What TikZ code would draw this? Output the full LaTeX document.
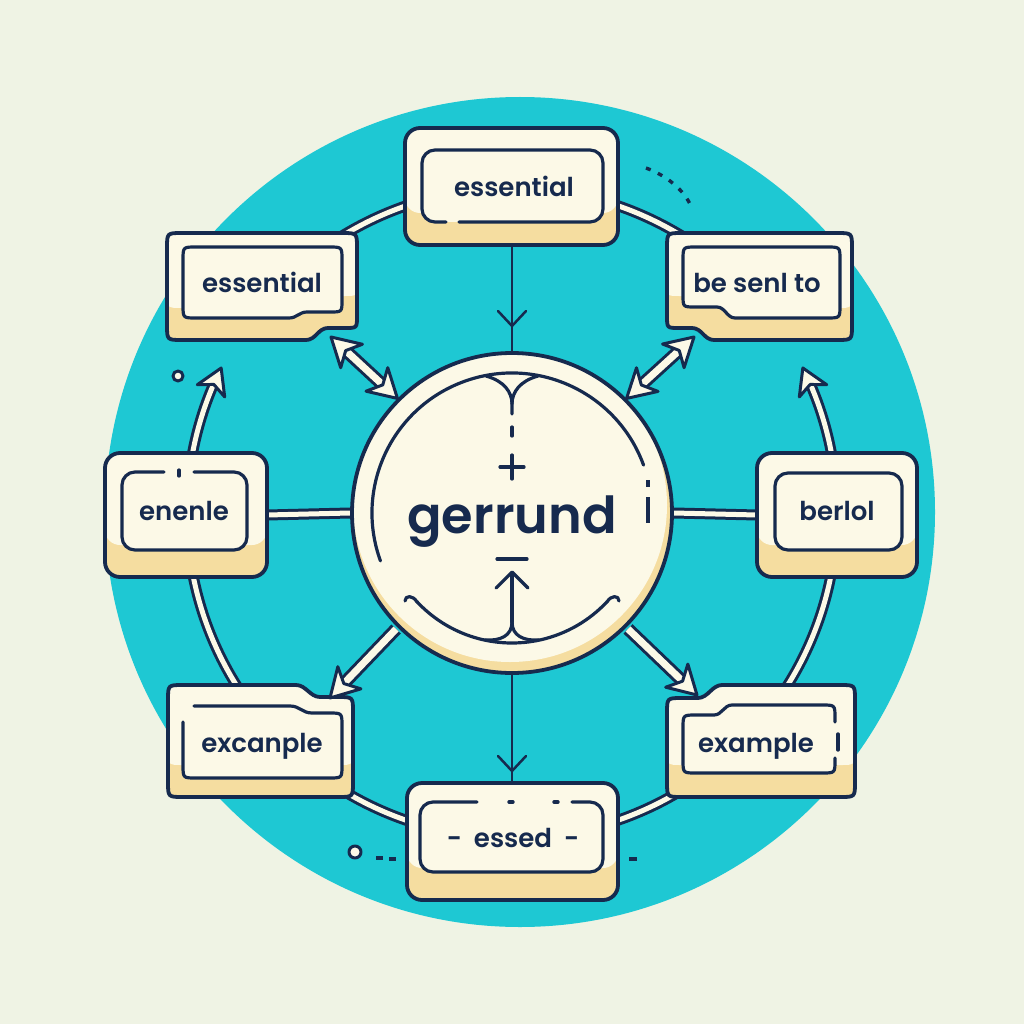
\documentclass[tikz,border=0pt]{standalone}
\usepackage{fontspec}
\setmainfont{Poppins}[UprightFont=* SemiBold]
\usetikzlibrary{calc}
\definecolor{bg}{RGB}{239,243,228}
\definecolor{cyanc}{RGB}{30,200,211}
\definecolor{navy}{RGB}{22,42,78}
\definecolor{cream}{RGB}{252,249,231}
\definecolor{beige}{RGB}{245,221,160}
\newcommand\cardshape[1]{%
  \begin{scope}
    \path[clip] #1;
    \fill[beige] (0,0) rectangle (1024,1024);
    \fill[cream, yshift=32pt] #1;
  \end{scope}
  \draw[navy, line width=3.8pt] #1;}
\newcommand\fathead[2]{%
  \filldraw[fill=cream, draw=navy, line width=3pt, line join=round]
    (#1) -- ($(#1)!28pt!(#2)!16pt!90:(#1)$) -- ($(#1)!20pt!(#2)$)
    -- ($(#1)!28pt!(#2)!16pt!-90:(#1)$) -- cycle;}
\newcommand\ringhead[2]{%
  \filldraw[fill=cream, draw=navy, line width=3pt, line join=round]
    (#1) -- ($(#1)!25pt!(#2)!15pt!90:(#1)$) -- ($(#1)!18pt!(#2)$)
    -- ($(#1)!25pt!(#2)!15pt!-90:(#1)$) -- cycle;}
\begin{document}
\begin{tikzpicture}[x=1pt,y=-1pt,line cap=round,line join=round]
\tikzset{
  ringo/.style={draw=navy, line width=11pt, line cap=butt},
  ringi/.style={draw=cream, line width=5pt, line cap=butt},
  fato/.style={draw=navy, line width=13pt, line cap=butt},
  fati/.style={draw=cream, line width=7pt, line cap=butt},
  spoke/.style={draw=navy, line width=2.5pt},
  deco/.style={draw=navy, line width=3.2pt},
  innerfill/.style={fill=cream, rounded corners=13pt},
  innerline/.style={draw=navy, line width=3.2pt, rounded corners=13pt},
  txt/.style={text=navy, font=\fontsize{26}{30}\selectfont, inner sep=0pt, anchor=base},
  anch/.style={inner sep=0pt, outer sep=0pt, draw=none},
}
\useasboundingbox (0,0) rectangle (1024,1024);
\fill[bg] (0,0) rectangle (1024,1024);
\fill[cyanc] (520,512) circle[radius=415];
\coordinate (c) at (512,513);

% small decorations
\draw[navy, line width=3.4pt, line cap=butt, dash pattern=on 5pt off 8pt]
  (646,168) .. controls (665,175) and (682,188) .. (690,204);
\draw[navy, line width=3pt, fill=cream] (178,376) circle[radius=5];
\draw[navy, line width=3pt, fill=cream] (355,852) circle[radius=6];
\draw[navy, line width=3.8pt, line cap=butt] (376,858)--(383,858) (389,859)--(396,859) (629,859)--(637,859);

% anchors for cards
\node[anch, minimum width=213pt, minimum height=117pt] (nT) at (512,186.5) {};
\node[anch, minimum width=190pt, minimum height=107pt] (nTL) at (262,286.5) {};
\node[anch, minimum width=185pt, minimum height=107pt] (nTR) at (759.5,286.5) {};
\node[anch, minimum width=162pt, minimum height=124pt] (nL) at (186,515) {};
\node[anch, minimum width=160pt, minimum height=124pt] (nR) at (837,515) {};
\node[anch, minimum width=185pt, minimum height=112pt] (nBL) at (260.5,741) {};
\node[anch, minimum width=188pt, minimum height=112pt] (nBR) at (761,741) {};
\node[anch, minimum width=211pt, minimum height=117pt] (nB) at (512,841.5) {};
\node[anch, circle, minimum size=324pt] (ctr) at (c) {};

% ring
\foreach \st in {ringo,ringi}{
  \draw[\st] ($(c)+(215:325)$) arc[start angle=215, end angle=270, radius=325];
  \draw[\st] ($(c)+(270:325)$) arc[start angle=270, end angle=325, radius=325];
  \draw[\st] ($(c)+(360:325)$) arc[start angle=360, end angle=337, radius=325];
  \draw[\st] ($(c)+(0:325)$) arc[start angle=0, end angle=45, radius=325];
  \draw[\st] ($(c)+(45:325)$) arc[start angle=45, end angle=90, radius=325];
  \draw[\st] ($(c)+(90:325)$) arc[start angle=90, end angle=135, radius=325];
  \draw[\st] ($(c)+(135:325)$) arc[start angle=135, end angle=180, radius=325];
  \draw[\st] ($(c)+(180:325)$) arc[start angle=180, end angle=203, radius=325];
  \draw[\st] (nL.east) -- (ctr.west);
  \draw[\st] (ctr.east) -- (nR.west);
}
\coordinate (lt) at ($(c)+(206.5:325)$);
\coordinate (lr) at ($(c)+(201.5:325)$);
\coordinate (rt) at ($(c)+(333.5:325)$);
\coordinate (rr) at ($(c)+(338.5:325)$);
\ringhead{lt}{lr}
\ringhead{rt}{rr}

% vertical spokes
\draw[spoke] (nT.south) -- (ctr.north);
\draw[spoke] (498,311) -- (512,326) -- (526,311);
\draw[spoke] (ctr.south) -- (nB.north);
\draw[spoke] (498,756) -- (512,771) -- (526,756);

% central circle
\begin{scope}
  \clip (c) circle[radius=160];
  \fill[beige] (c) circle[radius=160];
  \fill[cream] (510,505) circle[radius=157];
\end{scope}
\draw[navy, line width=3.8pt] (c) circle[radius=160];
\draw[deco] ($(c)+(160:140)$) arc[start angle=160, end angle=340, radius=140];
\draw[deco] (486,376) .. controls (504,381) and (512,392) .. (512,404) -- (512,414);
\draw[deco] (538,376) .. controls (520,381) and (512,392) .. (512,404);
\draw[deco] (512,427) -- (512,436);
\draw[deco] (500,467) -- (524,467) (512,455) -- (512,479);
\draw[deco] (497,559) -- (527,559);
\draw[deco] (496,588) -- (512,572) -- (528,588);
\draw[deco] (512,574) -- (512,622);
\draw[deco] ($(c)+(137:130)$) arc[start angle=137, end angle=43, radius=130];
\draw[deco] (417,602) .. controls (413,595) and (405,595) .. (405,601);
\draw[deco] (607,602) .. controls (611,595) and (619,595) .. (619,601);
\draw[deco] (512,622) .. controls (512,636) and (500,641) .. (485,640);
\draw[deco] (512,622) .. controls (512,636) and (524,641) .. (539,640);
\draw[navy, line width=4.2pt, line cap=butt] (648,480) -- (648,487) (648,497) -- (648,523);
\node[text=navy, font=\fontsize{51}{60}\selectfont, anchor=base, inner sep=0pt] (tC) at (512,533) {gerrund};

% top card
\cardshape{[rounded corners=15pt] (405,128) rectangle (618,245)}
\fill[innerfill] (422,150) rectangle (603,222);
\draw[innerline] (459,222) -- (603,222) -- (603,150) -- (422,150) -- (422,222) -- (446,222);
\node[txt] (tT) at (514,197) {essential};

% top-left card
\cardshape{(182,233) -- (342,233) .. controls (357,233) .. (357,248) -- (357,316) .. controls (357,328) .. (345,328) -- (328,328) .. controls (318,328) and (316,340) .. (306,340) -- (182,340) .. controls (167,340) .. (167,325) -- (167,248) .. controls (167,233) .. (182,233) -- cycle}
\filldraw[fill=cream, draw=navy, line width=3.2pt] (196,247) -- (329,247) .. controls (342,247) .. (342,260) -- (342,300) .. controls (342,312) .. (330,312) -- (307,312) .. controls (299,312) and (297,318) .. (289,318) -- (196,318) .. controls (183,318) .. (183,305) -- (183,260) .. controls (183,247) .. (196,247) -- cycle;
\node[txt] (tTL) at (262,292) {essential};

% top-right card
\cardshape{(682,233) -- (837,233) .. controls (852,233) .. (852,248) -- (852,325) .. controls (852,340) .. (837,340) -- (714,340) .. controls (704,340) and (702,328) .. (692,328) -- (679,328) .. controls (667,328) .. (667,316) -- (667,248) .. controls (667,233) .. (682,233) -- cycle}
\filldraw[fill=cream, draw=navy, line width=3.2pt] (696,247) -- (827,247) .. controls (840,247) .. (840,260) -- (840,305) .. controls (840,318) .. (827,318) -- (735,318) .. controls (727,318) and (725,307) .. (717,307) -- (695,307) .. controls (683,307) .. (683,295) -- (683,260) .. controls (683,247) .. (696,247) -- cycle;
\node[txt] (tTR) at (757,292) {be senl to};

% left card
\cardshape{[rounded corners=15pt] (105,453) rectangle (267,577)}
\fill[innerfill] (122,472) rectangle (247,550);
\draw[innerline] (194,472) -- (247,472) -- (247,550) -- (122,550) -- (122,472) -- (164,472);
\draw[deco] (179,470) -- (179,476);
\node[txt] (tL) at (184,520) {enenle};

% right card
\cardshape{[rounded corners=15pt] (757,453) rectangle (917,577)}
\filldraw[fill=cream, draw=navy, line width=3.2pt, rounded corners=13pt] (775,473) rectangle (902,550);
\node[txt] (tR) at (837,520) {berlol};

% bottom-left card
\cardshape{(183,685) -- (296,685) .. controls (306,685) and (310,697) .. (320,697) -- (338,697) .. controls (353,697) .. (353,712) -- (353,782) .. controls (353,797) .. (338,797) -- (183,797) .. controls (168,797) .. (168,782) -- (168,700) .. controls (168,685) .. (183,685) -- cycle}
\fill[cream] (196,706) -- (290,706) .. controls (300,706) and (302,713) .. (312,713) -- (329,713) .. controls (342,713) .. (342,726) -- (342,765) .. controls (342,778) .. (329,778) -- (196,778) .. controls (183,778) .. (183,765) -- (183,719) .. controls (183,706) .. (196,706) -- cycle;
\draw[deco] (183,722) -- (183,765) .. controls (183,778) .. (196,778) -- (329,778) .. controls (342,778) .. (342,765) -- (342,726) .. controls (342,713) .. (329,713) -- (312,713) .. controls (302,713) and (300,706) .. (290,706) -- (194,706);
\node[txt] (tBL) at (262,752) {excanple};

% bottom-right card
\cardshape{(682,698) -- (698,698) .. controls (708,698) and (712,685) .. (722,685) -- (840,685) .. controls (855,685) .. (855,700) -- (855,782) .. controls (855,797) .. (840,797) -- (682,797) .. controls (667,797) .. (667,782) -- (667,713) .. controls (667,698) .. (682,698) -- cycle}
\fill[cream] (696,715) -- (714,715) .. controls (722,715) and (724,705) .. (732,705) -- (822,705) .. controls (835,705) .. (835,718) -- (835,760) .. controls (835,773) .. (822,773) -- (696,773) .. controls (683,773) .. (683,760) -- (683,728) .. controls (683,715) .. (696,715) -- cycle;
\draw[deco] (835,758) -- (835,760) .. controls (835,773) .. (822,773) -- (696,773) .. controls (683,773) .. (683,760) -- (683,728) .. controls (683,715) .. (696,715) -- (714,715) .. controls (722,715) and (724,705) .. (732,705) -- (822,705) .. controls (835,705) .. (835,718) -- (835,722);
\draw[navy, line width=3.4pt] (838,734) -- (838,750);
\node[txt] (tBR) at (756,752) {example};

% bottom card
\cardshape{[rounded corners=15pt] (407,783) rectangle (618,900)}
\fill[innerfill] (420,802) rectangle (603,872);
\draw[innerline] (572,802) -- (603,802) -- (603,872) -- (420,872) -- (420,802) -- (477,802);
\draw[navy, line width=3.4pt] (509,802) -- (513,802) (554,802) -- (558,802);
\node[txt] (tB) at (513,847) {-\hspace{12pt}essed\hspace{12pt}-};

% fat arrows
\coordinate (tlTip) at (331,337);
\coordinate (trTip) at (694,337);
\coordinate (blTip) at (330,698);
\coordinate (brTip) at (697,695);
\foreach \st in {fato,fati}{
  \draw[\st] ($(ctr.135)!20pt!(tlTip)$) -- ($(tlTip)!20pt!(ctr.135)$);
  \draw[\st] ($(ctr.45)!20pt!(trTip)$) -- ($(trTip)!20pt!(ctr.45)$);
  \draw[\st] ($(ctr.225)!2pt!(blTip)$) -- ($(blTip)!20pt!(ctr.225)$);
  \draw[\st] ($(ctr.-45)!2pt!(brTip)$) -- ($(brTip)!20pt!(ctr.-45)$);
}
\fathead{ctr.135}{tlTip}
\fathead{tlTip}{ctr.135}
\fathead{ctr.45}{trTip}
\fathead{trTip}{ctr.45}
\fathead{blTip}{ctr.225}
\fathead{brTip}{ctr.-45}
\end{tikzpicture}
\end{document}
